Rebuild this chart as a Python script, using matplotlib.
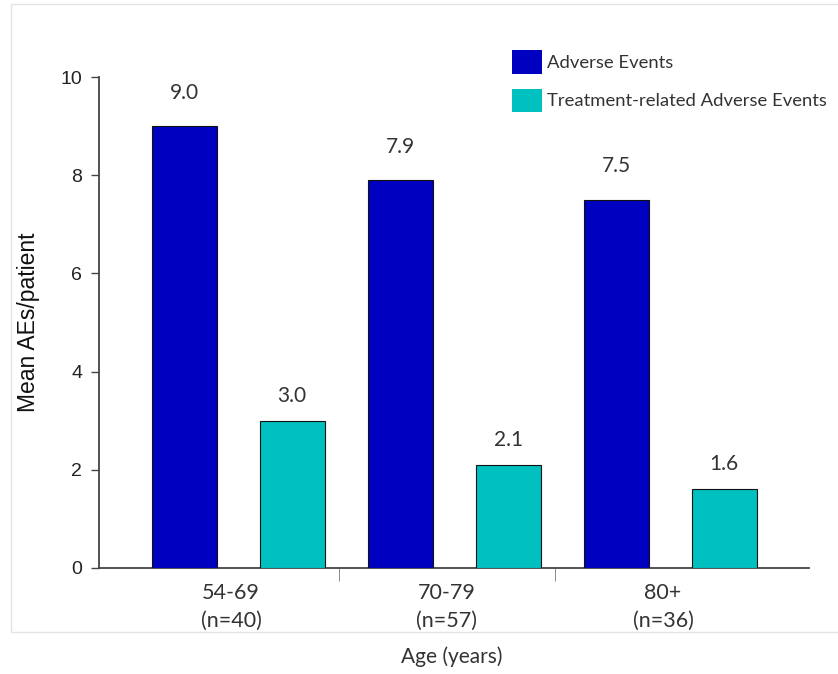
import matplotlib.pyplot as plt
from matplotlib.patches import Rectangle
import numpy as np

# data
categories = ['54-69\n(n=40)', '70-79\n(n=57)', '80+\n(n=36)']
adverse = [9.0, 7.9, 7.5]
treatment_related = [3.0, 2.1, 1.6]
series_names = ['Adverse Events', 'Treatment-related Adverse Events']

BLUE = '#0000c0'
TEAL = '#00c0c0'
TXT = '#333333'
HUM = ['Lato', 'DejaVu Sans']
ARI = ['Liberation Sans', 'DejaVu Sans']

fig = plt.figure(figsize=(8.38, 6.74), dpi=100)
fig.patch.set_facecolor('white')
ax = fig.add_axes([99/838, 1-568/674, 710/838, 491/674])

# light frame around the plot area
fig.add_artist(Rectangle((11/838, 1-632/674), 840/838, 628/674,
                         transform=fig.transFigure, fill=False,
                         edgecolor='#e4e4e4', linewidth=1.0))

x = np.arange(len(categories))
w = 0.30
b1 = ax.bar(x - 0.215, adverse, w, color=BLUE, edgecolor='#111111',
            linewidth=0.8, label=series_names[0], zorder=3)
b2 = ax.bar(x + 0.283, treatment_related, w, color=TEAL, edgecolor='#111111',
            linewidth=0.8, label=series_names[1], zorder=3)

for bars, off in ((b1, 24), (b2, 18)):
    for r in bars:
        v = r.get_height()
        ax.annotate(f'{v:.1f}', (r.get_x() + r.get_width()/2, v),
                    xytext=(0, off), textcoords='offset points',
                    ha='center', va='center', fontsize=15, color=TXT,
                    family=HUM)

ax.set_xlim(-0.611, 2.676)
ax.set_ylim(0, 10)
ax.set_yticks([0, 2, 4, 6, 8, 10])
ax.set_xticks(x)
ax.set_xticklabels(categories, family=HUM, fontsize=15.5, color=TXT,
                   linespacing=1.45)
ax.set_xticks([0.5, 1.5], minor=True)
ax.tick_params(axis='x', which='major', length=0, pad=11)
ax.tick_params(axis='x', which='minor', length=9, width=0.7, color='#888888')
ax.tick_params(axis='y', length=6, width=1.0, color='#444444', pad=6,
               labelsize=14, labelcolor='#222222')
for lab in ax.get_yticklabels():
    lab.set_family(ARI)

for s in ('top', 'right'):
    ax.spines[s].set_visible(False)
for s in ('left', 'bottom'):
    ax.spines[s].set_color('#444444')
    ax.spines[s].set_linewidth(1.3)

ax.set_ylabel('Mean AEs/patient', fontsize=16.5, family=ARI, color='#111111')
ax.yaxis.set_label_coords(-0.083, 0.5)
ax.set_xlabel('Age (years)', fontsize=15, family=HUM, color=TXT)
ax.xaxis.set_label_coords(0.497, -0.181)
ax.xaxis.label.set_va('center')

leg = ax.legend(loc='upper left', bbox_to_anchor=(512/838, 1-50/674),
                bbox_transform=fig.transFigure, frameon=False,
                borderpad=0, borderaxespad=0, handlelength=1.6,
                handleheight=1.6, handletextpad=0.3, labelspacing=0.8,
                prop={'family': HUM, 'size': 13.3})
for t in leg.get_texts():
    t.set_color(TXT)
for p in leg.get_patches():
    p.set_edgecolor('none')

fig.savefig('out.png', dpi=100, facecolor='white')
